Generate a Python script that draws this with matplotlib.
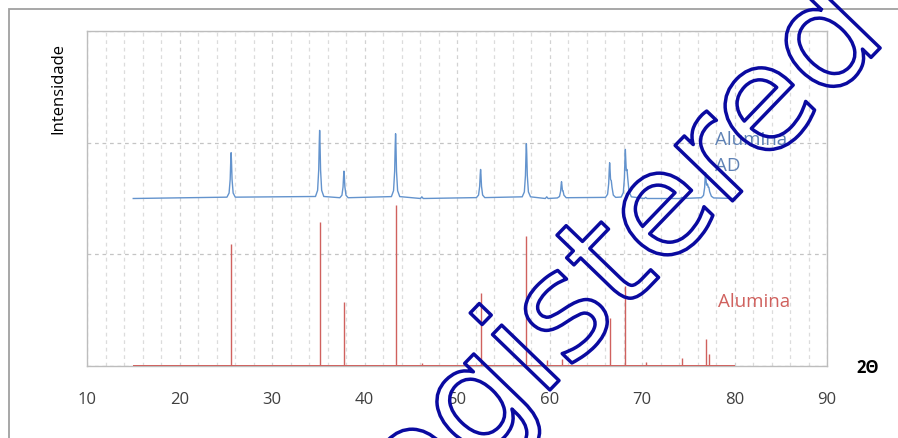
import matplotlib
matplotlib.use("Agg")
import matplotlib.pyplot as plt
from matplotlib.patches import Rectangle
from matplotlib.ticker import MultipleLocator
import matplotlib.patheffects as pe

plt.rcParams['font.family'] = ['Open Sans', 'DejaVu Sans']

# padrão de referência (Alumina) - linhas verticais
ref_2theta = [25.58, 35.15, 37.78, 43.36, 46.2, 52.55, 57.5, 59.7, 61.3,
              66.5, 68.2, 70.4, 74.3, 76.87, 77.23]
ref_int = [1.09, 1.29, 0.57, 1.44, 0.025, 0.65, 1.16, 0.05, 0.06,
           0.43, 0.72, 0.035, 0.07, 0.24, 0.11]

# difratograma medido (Alumina AD), deslocado para cima
ad_2theta = [15.0,
             25.13, 25.36, 25.48, 25.54, 25.58, 25.62, 25.68, 25.80, 26.03,
             34.70, 34.93, 35.05, 35.11, 35.15, 35.19, 35.25, 35.37, 35.60,
             37.33, 37.56, 37.68, 37.74, 37.78, 37.82, 37.88, 38.00, 38.23,
             42.91, 43.14, 43.26, 43.32, 43.36, 43.40, 43.46, 43.58, 43.81,
             46.05, 46.2, 46.35,
             52.10, 52.33, 52.45, 52.51, 52.55, 52.59, 52.65, 52.77, 53.00,
             57.05, 57.28, 57.40, 57.46, 57.50, 57.54, 57.60, 57.72, 57.95,
             59.55, 59.7, 59.85,
             60.85, 61.08, 61.20, 61.26, 61.30, 61.34, 61.40, 61.46, 61.56, 61.80,
             66.05, 66.28, 66.40, 66.46, 66.50, 66.54, 66.60, 66.68, 66.76, 66.90, 67.15,
             67.75, 67.98, 68.10, 68.16, 68.20, 68.24, 68.30, 68.38, 68.46, 68.60, 68.85,
             70.25, 70.4, 70.55,
             74.15, 74.3, 74.45,
             76.42, 76.65, 76.77, 76.83, 76.87, 76.91, 76.98, 77.08, 77.16, 77.23,
             77.32, 77.50, 77.75,
             80.0]
ad_int = [1.50,
          1.512, 1.549, 1.672, 1.836, 1.91, 1.836, 1.672, 1.549, 1.512,
          1.518, 1.573, 1.756, 2.00, 2.11, 2.00, 1.756, 1.573, 1.518,
          1.507, 1.529, 1.603, 1.70, 1.745, 1.70, 1.603, 1.529, 1.507,
          1.517, 1.57, 1.744, 1.976, 2.08, 1.976, 1.744, 1.57, 1.517,
          1.50, 1.515, 1.50,
          1.508, 1.531, 1.609, 1.713, 1.76, 1.713, 1.609, 1.531, 1.508,
          1.515, 1.559, 1.706, 1.902, 1.99, 1.902, 1.706, 1.559, 1.515,
          1.50, 1.515, 1.50,
          1.505, 1.518, 1.563, 1.623, 1.65, 1.62, 1.57, 1.57, 1.53, 1.507,
          1.51, 1.538, 1.634, 1.762, 1.82, 1.77, 1.67, 1.66, 1.60, 1.53, 1.51,
          1.513, 1.553, 1.685, 1.86, 1.94, 1.86, 1.75, 1.76, 1.68, 1.56, 1.515,
          1.50, 1.51, 1.50,
          1.50, 1.51, 1.50,
          1.507, 1.528, 1.597, 1.689, 1.73, 1.68, 1.62, 1.63, 1.60, 1.60,
          1.56, 1.52, 1.505,
          1.50]

blue = '#6393cd'
red = '#d0615e'

fig = plt.figure(figsize=(8.98, 4.38), dpi=100)
ax = fig.add_axes([87 / 898, 1 - 366 / 438, 740 / 898, 335 / 438])

# moldura externa do gráfico
fig.patches.append(Rectangle((8.5 / 898, -0.1), 1.2, 1.1 - 9.5 / 438,
                             transform=fig.transFigure, fill=False,
                             edgecolor='#a0a0a0', lw=1.3))

# grades
ax.xaxis.set_major_locator(MultipleLocator(10))
ax.xaxis.set_minor_locator(MultipleLocator(2))
ax.set_yticks([0, 1, 2, 3])
ax.grid(which='minor', axis='x', color='#dcdcdc', ls=(0, (3, 3)), lw=0.9)
ax.grid(which='major', axis='x', color='#d2d2d2', ls=(0, (3, 3)), lw=0.9)
ax.grid(which='major', axis='y', color='#c4c4c4', ls=(0, (3, 3)), lw=0.9)
ax.set_axisbelow(True)

ax.hlines(0, 15, 80, color=red, lw=1.4, zorder=3)
ax.vlines(ref_2theta, 0, ref_int, color=red, lw=1.0, zorder=3)
ax.plot(ad_2theta, ad_int, color=blue, lw=1.0, zorder=3)

ax.set_xlim(10, 90)
ax.set_ylim(0, 3)
ax.tick_params(axis='x', which='both', length=0, pad=19, labelsize=12,
               labelcolor='#404040')
ax.tick_params(axis='y', which='both', length=0, labelleft=False)
for s in ax.spines.values():
    s.set_color('#bdbdbd')
    s.set_linewidth(1.0)

fig.text(58 / 898, 1 - 88 / 438, 'Intensidade', rotation=90, ha='center',
         va='center', fontsize=12, color='black')
fig.text(868 / 898, 1 - 368 / 438, '2Θ', ha='center', va='center',
         fontsize=12, fontweight='bold', color='black')

ax.text(77.9, 1.91, 'Alumina\nAD', color='#5f82b5', fontsize=13.5,
        ha='left', va='center', linespacing=1.55)
ax.text(78.2, 0.57, 'Alumina', color=red, fontsize=13.5, ha='left',
        va='center')

# marca d'água (só contorno)
fig.text(236 / 898, 1 - 715 / 438, 'Unregistered', rotation=46,
         rotation_mode='anchor', ha='left', va='baseline', fontsize=105,
         family='DejaVu Sans', color='none',
         path_effects=[pe.Stroke(linewidth=2.5, foreground='#0a0aa0')])

fig.savefig('out.png', dpi=100)
